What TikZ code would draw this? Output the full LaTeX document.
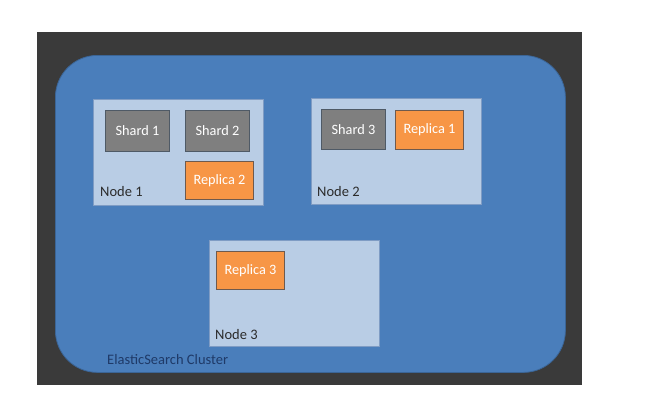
\documentclass[tikz,border=0pt]{standalone}
\usepackage{fontspec}
\setmainfont{Carlito}
\definecolor{darkbg}{HTML}{3A3A3A}
\definecolor{clusterblue}{HTML}{4A7EBB}
\definecolor{nodefill}{HTML}{B9CDE5}
\definecolor{nodeedge}{HTML}{7F9CC4}
\definecolor{shardgray}{HTML}{7F7F7F}
\definecolor{shardedge}{HTML}{4F5A66}
\definecolor{replicaorange}{HTML}{F79646}
\definecolor{replicaedge}{HTML}{6E5A4E}
\definecolor{labeldark}{HTML}{2B2B2B}
\definecolor{clusterlabel}{HTML}{1F3A68}
\tikzset{
  esnode/.style={draw=nodeedge, line width=1pt, fill=nodefill, rectangle, inner sep=0pt, anchor=north west},
  shardbox/.style={draw=shardedge, line width=1pt, fill=shardgray, rectangle, inner sep=0pt, anchor=north west, text=white, font=\fontsize{14.3}{16}\selectfont},
  replicabox/.style={draw=replicaedge, line width=1pt, fill=replicaorange, rectangle, inner sep=0pt, anchor=north west, text=white, font=\fontsize{14.3}{16}\selectfont},
  nodelabel/.style={anchor=west, inner sep=0pt, text=labeldark, font=\fontsize{14.5}{16}\selectfont},
}
\begin{document}
\begin{tikzpicture}[x=1pt,y=-1pt]
\useasboundingbox (0,0) rectangle (660,404);
\fill[white] (0,0) rectangle (660,404);
\node[fill=darkbg, inner sep=0pt, anchor=north west, minimum width=545pt, minimum height=353pt] (bg) at (37,32) {};
\node[fill=clusterblue, draw=clusterblue!80!black, line width=0.8pt, rounded corners=42pt, inner sep=0pt, anchor=north west, minimum width=510pt, minimum height=317pt] (cluster) at (55,55) {};
% Node 1
\node[esnode, minimum width=170pt, minimum height=106pt] (n1) at (93,99) {};
\node[shardbox, minimum width=64pt, minimum height=41pt] (s1) at (105,110) {Shard 1};
\node[shardbox, minimum width=64pt, minimum height=41pt] (s2) at (185,110) {Shard 2};
\node[replicabox, minimum width=68pt, minimum height=38pt] (r2) at (185,161) {Replica 2};
\node[nodelabel] (l1) at (100,192) {Node 1};
% Node 2
\node[esnode, minimum width=170pt, minimum height=106pt] (n2) at (311,98) {};
\node[shardbox, minimum width=64pt, minimum height=40pt] (s3) at (321,109) {Shard 3};
\node[replicabox, minimum width=68pt, minimum height=39pt] (r1) at (395,110) {Replica 1};
\node[nodelabel] (l2) at (317,192) {Node 2};
% Node 3
\node[esnode, minimum width=170pt, minimum height=106pt] (n3) at (209,240) {};
\node[replicabox, minimum width=68pt, minimum height=38pt] (r3) at (216,251) {Replica 3};
\node[nodelabel] (l3) at (215,335) {Node 3};
% Cluster label
\node[anchor=west, inner sep=0pt, text=clusterlabel, font=\fontsize{14.5}{16}\selectfont] (cl) at (107,360) {ElasticSearch Cluster};
\end{tikzpicture}
\end{document}
